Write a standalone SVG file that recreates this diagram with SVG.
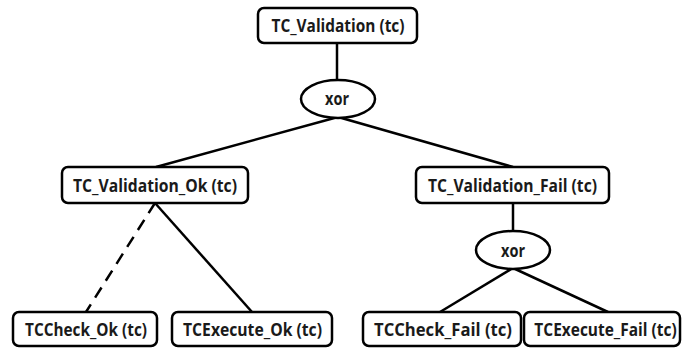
<svg xmlns="http://www.w3.org/2000/svg" width="682" height="348" viewBox="0 0 682 348">
  <style>
    .box { fill: #fff; stroke: #000; stroke-width: 2.5; }
    .op { fill: #fff; stroke: #000; stroke-width: 2.5; }
    .edge { stroke: #000; stroke-width: 2.5; fill: none; }
    .dash { stroke-dasharray: 12 8; }
    .lbl { font-family: "Open Sans", "Liberation Sans", sans-serif; font-weight: bold; font-size: 17px; fill: #1a1a1a; text-anchor: middle; }
  </style>
  <rect width="682" height="348" fill="#fff"/>

  <!-- connectors -->
  <g id="connectors">
    <line class="edge" x1="337" y1="43" x2="337" y2="81"/>
    <line class="edge" x1="338" y1="117" x2="156" y2="167"/>
    <line class="edge" x1="338" y1="117" x2="513" y2="167"/>
    <line class="edge dash" x1="155" y1="203" x2="86" y2="312"/>
    <line class="edge" x1="155" y1="203" x2="252" y2="312"/>
    <line class="edge" x1="513" y1="203" x2="513" y2="231"/>
    <line class="edge" x1="513" y1="268" x2="440" y2="312"/>
    <line class="edge" x1="513" y1="268" x2="608" y2="312"/>
  </g>

  <g id="tc-validation">
    <rect class="box" x="258" y="8" width="159" height="35" rx="6"/>
    <text class="lbl" x="338" y="32" textLength="133" lengthAdjust="spacingAndGlyphs">TC_Validation (tc)</text>
  </g>

  <g id="xor-top">
    <ellipse class="op" cx="338" cy="99" rx="37" ry="19"/>
    <text class="lbl" x="337" y="105" textLength="24" lengthAdjust="spacingAndGlyphs">xor</text>
  </g>

  <g id="tc-validation-ok">
    <rect class="box" x="62" y="167" width="186" height="36" rx="6"/>
    <text class="lbl" x="155" y="192" textLength="164" lengthAdjust="spacingAndGlyphs">TC_Validation_Ok (tc)</text>
  </g>

  <g id="tc-validation-fail">
    <rect class="box" x="416" y="167" width="193" height="36" rx="6"/>
    <text class="lbl" x="512.5" y="192" textLength="169" lengthAdjust="spacingAndGlyphs">TC_Validation_Fail (tc)</text>
  </g>

  <g id="xor-fail">
    <ellipse class="op" cx="513" cy="250" rx="37" ry="19"/>
    <text class="lbl" x="513" y="257" textLength="24" lengthAdjust="spacingAndGlyphs">xor</text>
  </g>

  <g id="tccheck-ok">
    <rect class="box" x="13" y="312" width="144" height="34" rx="6"/>
    <text class="lbl" x="86" y="336" textLength="122" lengthAdjust="spacingAndGlyphs">TCCheck_Ok (tc)</text>
  </g>

  <g id="tcexecute-ok">
    <rect class="box" x="172" y="312" width="160" height="34" rx="6"/>
    <text class="lbl" x="252.5" y="336" textLength="139" lengthAdjust="spacingAndGlyphs">TCExecute_Ok (tc)</text>
  </g>

  <g id="tccheck-fail">
    <rect class="box" x="363" y="312" width="158" height="34" rx="6"/>
    <text class="lbl" x="443" y="336" textLength="138" lengthAdjust="spacingAndGlyphs">TCCheck_Fail (tc)</text>
  </g>

  <g id="tcexecute-fail">
    <rect class="box" x="524" y="312" width="156" height="34" rx="6"/>
    <!-- narrowed by a horizontal scale so it stays inside the right border -->
    <text class="lbl" transform="translate(605.5 336) scale(0.91 1)">TCExecute_Fail (tc)</text>
  </g>
</svg>
